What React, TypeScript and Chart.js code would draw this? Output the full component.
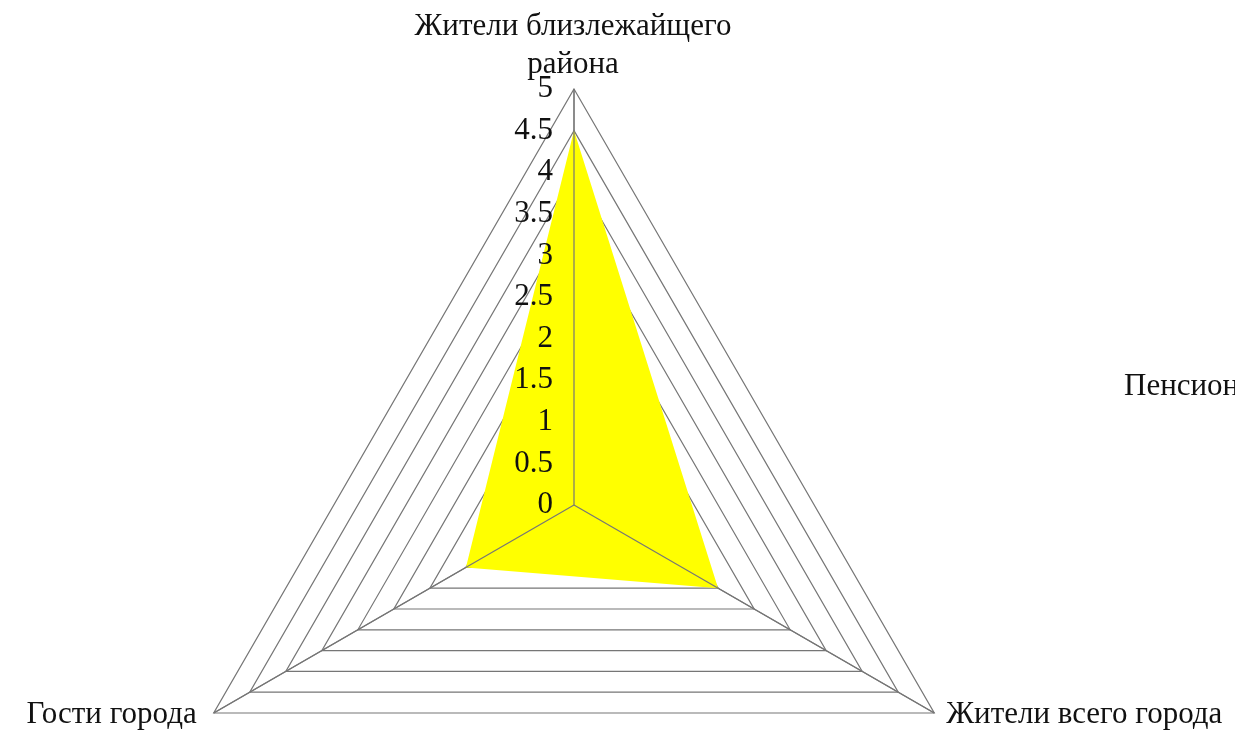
import React, { useEffect, useRef } from "react";
import { Chart, registerables } from "chart.js";

Chart.register(...registerables);

const categories: string[][] = [
  ["Жители близлежайщего", "района"],
  ["Жители всего города"],
  ["Гости города"],
];
const seriesName = "Пенсионеры";
const seriesValues: number[] = [4.5, 2, 1.5];
const tickValues: number[] = [0, 0.5, 1, 1.5, 2, 2.5, 3, 3.5, 4, 4.5, 5];
const tickLabels: string[] = ["0", "0.5", "1", "1.5", "2", "2.5", "3", "3.5", "4", "4.5", "5"];

const FONT = "31px 'Liberation Serif', 'Times New Roman', serif";
const GRID = "#767676";

const overlay = {
  id: "overlay",
  afterDatasetsDraw(chart: any) {
    const scale = chart.scales.r;
    const ctx = chart.ctx as CanvasRenderingContext2D;
    const n = chart.data.labels.length;
    ctx.save();
    // angle lines on top of fill
    ctx.strokeStyle = GRID;
    ctx.lineWidth = 1.2;
    for (let i = 0; i < n; i++) {
      const p = scale.getPointPosition(i, scale.drawingArea);
      ctx.beginPath();
      ctx.moveTo(scale.xCenter, scale.yCenter);
      ctx.lineTo(p.x, p.y);
      ctx.stroke();
    }
    ctx.fillStyle = "#111";
    ctx.font = FONT;
    // tick labels
    ctx.textAlign = "right";
    ctx.textBaseline = "middle";
    tickValues.forEach((v, i) => {
      const d = scale.getDistanceFromCenterForValue(v);
      ctx.fillText(tickLabels[i], scale.xCenter - 21, scale.yCenter - d);
    });
    // category labels
    ctx.textBaseline = "alphabetic";
    const top = scale.getPointPosition(0, scale.drawingArea);
    ctx.textAlign = "center";
    const lines = categories[0];
    lines.forEach((t, k) => {
      ctx.fillText(t, top.x - 1, top.y - 54 + k * 38);
    });
    const br = scale.getPointPosition(1, scale.drawingArea);
    ctx.textAlign = "left";
    ctx.fillText(categories[1].join(" "), br.x + 12, br.y + 10);
    const bl = scale.getPointPosition(2, scale.drawingArea);
    ctx.textAlign = "right";
    ctx.fillText(categories[2].join(" "), bl.x - 17, bl.y + 10);
    // legend text
    ctx.textAlign = "left";
    ctx.fillText(chart.data.datasets[0].label, 1124, 395);
    ctx.restore();
  },
};

export default function App() {
  const ref = useRef<HTMLCanvasElement | null>(null);
  useEffect(() => {
    if (!ref.current) return;
    const chart = new Chart(ref.current, {
      type: "radar",
      data: {
        labels: categories,
        datasets: [
          {
            label: seriesName,
            data: seriesValues,
            backgroundColor: "#FFFF00",
            borderWidth: 0,
            borderColor: "rgba(0,0,0,0)",
            pointRadius: 0,
            fill: true,
          },
        ],
      },
      options: {
        animation: false,
        responsive: true,
        maintainAspectRatio: false,
        plugins: { legend: { display: false }, tooltip: { enabled: false } },
        scales: {
          r: {
            min: 0,
            max: 5,
            ticks: { stepSize: 0.5, display: false },
            pointLabels: { display: false },
            grid: { color: GRID, lineWidth: 1.2 },
            angleLines: { display: true, color: GRID, lineWidth: 1.2 },
            afterFit: (scale: any) => {
              scale.xCenter = 574;
              scale.yCenter = 505;
              scale.drawingArea = 416;
            },
          } as any,
        },
      },
      plugins: [overlay],
    });
    return () => chart.destroy();
  }, []);
  return (
    <div style={{ position: "absolute", left: 0, top: 0, width: 1235, height: 733, background: "#fff" }}>
      <canvas ref={ref} />
    </div>
  );
}
